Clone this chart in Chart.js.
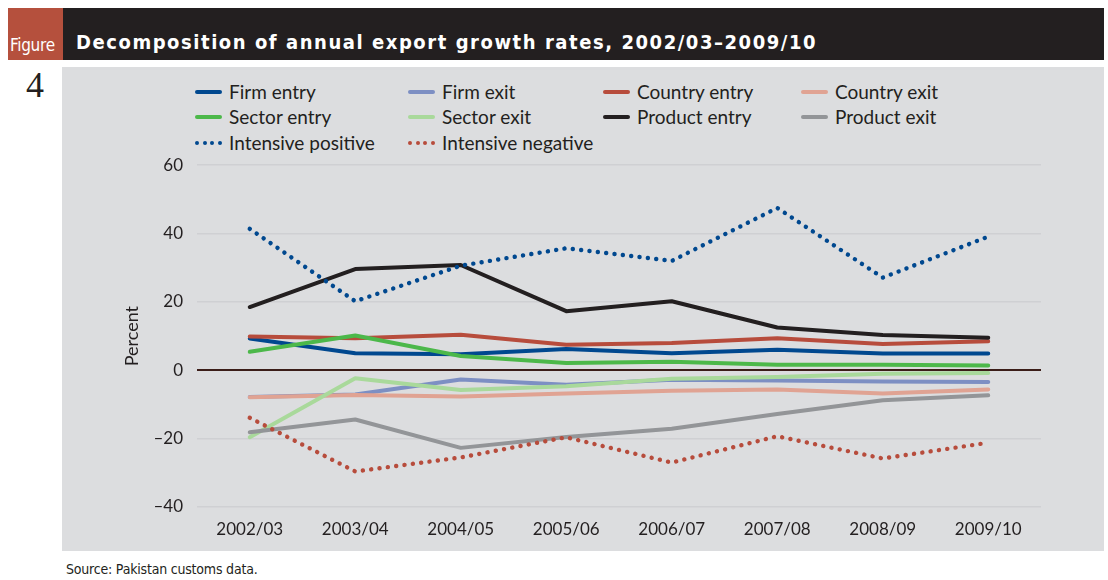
<!DOCTYPE html>
<html>
<head>
<meta charset="utf-8">
<script src="https://cdn.jsdelivr.net/npm/chart.js@4.4.1/dist/chart.umd.min.js"></script>
<style>
  body { margin: 0; background: #fff; width: 1108px; height: 580px; position: relative; overflow: hidden; font-family: Lato, sans-serif; }
  .bar { position: absolute; left: 8px; top: 8px; width: 1096px; height: 52px; background: #231f20; }
  .fig { position: absolute; left: 8px; top: 8px; width: 55px; height: 52px; background: #b5503d; }
  .fig span { position: absolute; left: 2px; bottom: 5px; color: #fff; font: 17px "DejaVu Sans Condensed", "DejaVu Sans", sans-serif; letter-spacing: -0.3px; }
  .title { position: absolute; left: 76px; top: 30px; color: #fff; font: bold 20px "DejaVu Sans Condensed", "DejaVu Sans", sans-serif; letter-spacing: 1.55px; white-space: nowrap; }
  .num { position: absolute; left: 26px; top: 64px; font: 36px "Liberation Serif", "DejaVu Serif", serif; color: #231f20; }
  .panel { position: absolute; left: 62px; top: 67px; width: 1042px; height: 484px; background: #dcdddf; }
  .legend { position: absolute; left: 0; top: 0; }
  .item { position: absolute; font-size: 19px; color: #231f20; white-space: nowrap; line-height: 22px; }
  .sw { position: absolute; top: 9px; width: 27px; height: 4px; border-radius: 2px; }
  .dots { position: absolute; top: 9px; width: 27px; height: 4px; }
  .dots i { position: absolute; top: 0; width: 4px; height: 4px; border-radius: 2px; }
  .src { position: absolute; left: 66px; top: 561px; font: 14px "DejaVu Sans Condensed", "DejaVu Sans", sans-serif; color: #231f20; letter-spacing: -0.2px; }
  #wrap { position: absolute; left: 62px; top: 141px; width: 1042px; height: 410px; }
</style>
</head>
<body>
<div class="bar"></div>
<div class="fig"><span>Figure</span></div>
<div class="title">Decomposition of annual export growth rates, 2002/03–2009/10</div>
<div class="num">4</div>
<div class="panel"></div>
<div class="legend" id="legend"></div>
<div id="wrap"><canvas id="chart"></canvas></div>
<div class="src">Source: Pakistan customs data.</div>
<script>
const years = ['2002/03', '2003/04', '2004/05', '2005/06', '2006/07', '2007/08', '2008/09', '2009/10'];
const yTicks = [-40, -20, 0, 20, 40, 60];

const firmEntry = [9.3, 5.0, 4.7, 6.2, 5.0, 6.0, 4.9, 4.9];
const firmExit = [-7.8, -7.1, -2.7, -4.2, -2.8, -3.0, -3.3, -3.4];
const countryEntry = [9.9, 9.4, 10.4, 7.5, 8.0, 9.4, 7.7, 8.5];
const countryExit = [-7.9, -7.2, -7.7, -6.8, -6.0, -5.6, -6.8, -5.6];
const sectorEntry = [5.4, 10.2, 4.2, 2.1, 2.5, 1.6, 1.6, 1.4];
const sectorExit = [-19.6, -2.3, -5.8, -4.7, -2.5, -2.0, -1.0, -0.8];
const productEntry = [18.5, 29.6, 30.8, 17.3, 20.2, 12.5, 10.3, 9.5];
const productExit = [-18.1, -14.4, -22.7, -19.5, -17.1, -12.8, -8.8, -7.3];
const intensivePositive = [41.4, 20.2, 30.6, 35.7, 32.0, 47.5, 27.1, 39.1];
const intensiveNegative = [-13.9, -29.6, -25.5, -19.6, -27.0, -19.3, -25.8, -21.2];

// legend order (4 columns x 3 rows), drawing order is reversed so entries sit on top
const series = [
    { label: 'Firm entry', data: firmEntry, color: '#00488f', col: 0, row: 0 },
    { label: 'Firm exit', data: firmExit, color: '#7d8fc3', col: 1, row: 0 },
    { label: 'Country entry', data: countryEntry, color: '#b74c3c', col: 2, row: 0 },
    { label: 'Country exit', data: countryExit, color: '#e0a393', col: 3, row: 0 },
    { label: 'Sector entry', data: sectorEntry, color: '#4cb84a', col: 0, row: 1 },
    { label: 'Sector exit', data: sectorExit, color: '#a9d99b', col: 1, row: 1 },
    { label: 'Product entry', data: productEntry, color: '#231f20', col: 2, row: 1 },
    { label: 'Product exit', data: productExit, color: '#939598', col: 3, row: 1 },
    { label: 'Intensive positive', data: intensivePositive, color: '#00488f', dotted: true, col: 0, row: 2 },
    { label: 'Intensive negative', data: intensiveNegative, color: '#b74c3c', dotted: true, col: 1, row: 2 }
];

// HTML legend
const colX = [195, 408, 603, 801];
const rowY = [81, 106, 132];
const legend = document.getElementById('legend');
series.forEach(s => {
    const el = document.createElement('div');
    el.className = 'item';
    el.style.left = colX[s.col] + 'px';
    el.style.top = rowY[s.row] + 'px';
    let mark;
    if (s.dotted) {
        mark = '<span class="dots">' + [0, 7.5, 15, 22.5].map(x => `<i style="left:${x}px;background:${s.color}"></i>`).join('') + '</span>';
    } else {
        mark = `<span class="sw" style="background:${s.color}"></span>`;
    }
    el.innerHTML = mark + `<span style="margin-left:34px">${s.label}</span>`;
    legend.appendChild(el);
});

const ctx = document.getElementById('chart').getContext('2d');
new Chart(ctx, {
    type: 'line',
    data: {
        labels: years,
        datasets: series.map((s, i) => ({
            label: s.label,
            data: s.data,
            borderColor: s.color,
            backgroundColor: s.color,
            borderWidth: s.dotted ? 4.4 : 4,
            borderDash: s.dotted ? [0.1, 8.3] : [],
            borderCapStyle: 'round',
            borderJoinStyle: 'round',
            pointRadius: 0,
            tension: 0,
            order: series.length - i
        }))
    },
    options: {
        responsive: true,
        maintainAspectRatio: false,
        animation: false,
        layout: { padding: { top: 4, right: 63, left: 0, bottom: 0 } },
        plugins: { legend: { display: false }, tooltip: { enabled: false } },
        scales: {
            x: {
                offset: true,
                grid: { display: false, drawTicks: false },
                border: { display: false },
                ticks: { color: '#231f20', font: { family: 'Lato', size: 17 }, padding: 12, maxRotation: 0 },
                afterFit: axis => { axis.height = 44; }
            },
            y: {
                min: -40,
                max: 60,
                afterBuildTicks: axis => { axis.ticks = yTicks.map(v => ({ value: v })); },
                grid: {
                    drawTicks: false,
                    color: c => c.tick && c.tick.value === 0 ? '#3b1d18' : '#cfd0d3',
                    lineWidth: c => c.tick && c.tick.value === 0 ? 2 : 1.5
                },
                border: { display: false },
                ticks: {
                    color: '#231f20',
                    font: { family: 'Lato', size: 17 },
                    padding: 14,
                    callback: v => String(v).replace('-', '\u2013')
                },
                title: {
                    display: true,
                    text: 'Percent',
                    color: '#231f20',
                    font: { family: 'Lato', size: 18 },
                    padding: { top: 59, bottom: 0 }
                },
                afterFit: axis => { axis.width = 135; }
            }
        }
    }
});
</script>
</body>
</html>
